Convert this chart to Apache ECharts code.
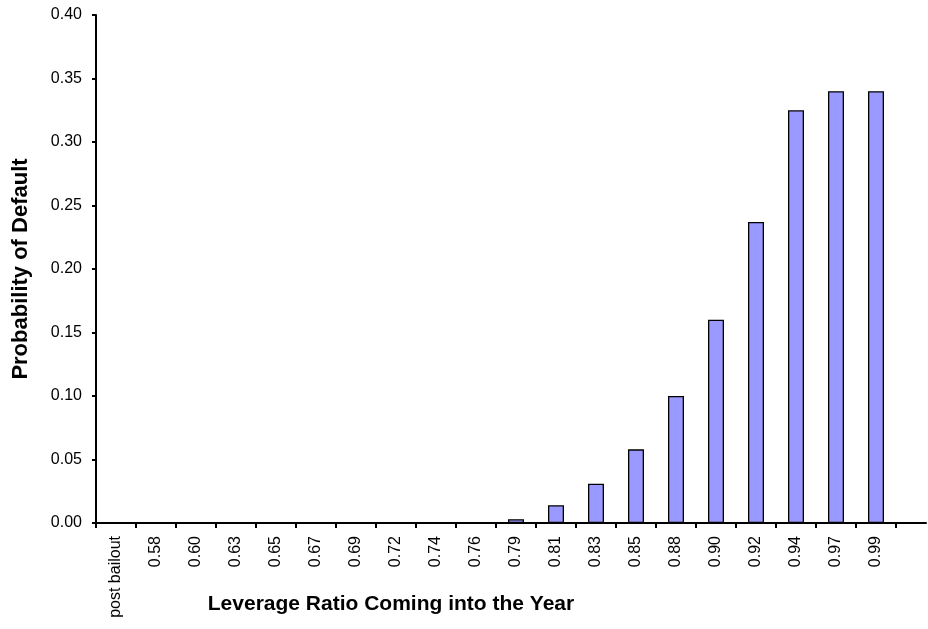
<!DOCTYPE html>
<html>
<head>
<meta charset="utf-8">
<script src="https://cdn.jsdelivr.net/npm/echarts@6/dist/echarts.min.js"></script>
<style>html,body{margin:0;padding:0;background:#fff;}#c{width:928px;height:629px;}</style>
</head>
<body>
<div id="c"></div>
<script>
var categories = ['post bailout','0.58','0.60','0.63','0.65','0.67','0.69','0.72','0.74','0.76','0.79','0.81','0.83','0.85','0.88','0.90','0.92','0.94','0.97','0.99'];
var probDefault = [0,0,0,0,0,0,0,0,0,0,0.003,0.014,0.031,0.058,0.100,0.160,0.237,0.325,0.340,0.340];
var yTicks = {min:0, max:0.40, interval:0.05};
var xTitle = 'Leverage Ratio Coming into the Year';
var yTitle = 'Probability of Default';

var font = 'Liberation Sans, Arial, sans-serif';
var barData = probDefault.map(function(v){
  return v === 0 ? {value:v, itemStyle:{borderWidth:0}} : v;
});
var chart = echarts.init(document.getElementById('c'), null, {renderer:'canvas'});
chart.setOption({
  backgroundColor:'#ffffff',
  animation:false,
  grid:[
    {left:96, right:32, top:15, bottom:106, containLabel:false, outerBoundsMode:'none'},
    {left:96, right:2, top:15, bottom:106, containLabel:false, outerBoundsMode:'none'}
  ],
  xAxis:[
    {type:'category', gridIndex:0, data:categories,
     axisLine:{show:false},
     axisTick:{show:true, alignWithLabel:false, length:5, inside:false, lineStyle:{color:'#000', width:2}},
     axisLabel:{rotate:90, fontSize:16, color:'#000', fontFamily:font, margin:13, interval:0},
     name:xTitle, nameLocation:'middle', nameGap:71, nameMoveOverlap:false,
     nameTextStyle:{fontSize:21, fontWeight:'bold', color:'#000', fontFamily:font, padding:[0,210,0,0]}
    },
    {type:'value', gridIndex:1, min:0, max:1, position:'bottom',
     axisLine:{show:true, onZero:false, lineStyle:{color:'#000', width:2}},
     axisTick:{show:false}, axisLabel:{show:false}, splitLine:{show:false}}
  ],
  yAxis:[
    {type:'value', gridIndex:0, min:yTicks.min, max:yTicks.max, interval:yTicks.interval,
     axisLine:{show:true, lineStyle:{color:'#000', width:2}},
     axisTick:{show:true, length:4, lineStyle:{color:'#000', width:2}},
     axisLabel:{fontSize:16, color:'#000', fontFamily:font, margin:14, formatter:function(v){return v.toFixed(2);}},
     splitLine:{show:false},
     name:yTitle, nameLocation:'middle', nameGap:64, nameRotate:90, nameMoveOverlap:false,
     nameTextStyle:{fontSize:22, fontWeight:'bold', color:'#000', fontFamily:font}
    },
    {type:'value', gridIndex:1, min:0, max:1, show:false}
  ],
  series:[
    {type:'bar', xAxisIndex:0, yAxisIndex:0, data:barData, barWidth:16,
     itemStyle:{color:'#9999FF', borderColor:'#000', borderWidth:1.3}}
  ]
});
</script>
</body>
</html>
